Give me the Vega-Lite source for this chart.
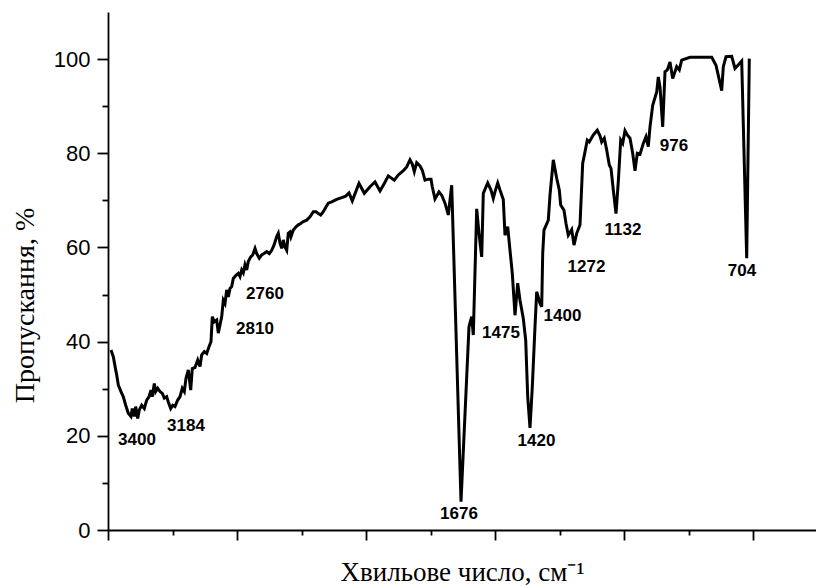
{
  "$schema": "https://vega.github.io/schema/vega-lite/v6.json",
  "width": 708,
  "height": 518,
  "autosize": {"type": "none"},
  "padding": {"left": 108, "top": 12, "right": 0, "bottom": 56},
  "background": "white",
  "config": {"view": {"stroke": null}},
  "datasets": {
    "spectrum": [
      {"pos": 3, "T": 38.2}, {"pos": 5.3, "T": 36.8}, {"pos": 7.7, "T": 34.0}, {"pos": 8.7, "T": 32.9},
      {"pos": 10.3, "T": 30.8}, {"pos": 13, "T": 29.4}, {"pos": 15.3, "T": 28.3}, {"pos": 17.7, "T": 26.5},
      {"pos": 20.3, "T": 24.8}, {"pos": 23, "T": 24.1}, {"pos": 24.3, "T": 25.8}, {"pos": 26.3, "T": 24.1},
      {"pos": 27.7, "T": 26.2}, {"pos": 29.7, "T": 23.7}, {"pos": 31.3, "T": 25.5}, {"pos": 33.7, "T": 26.5},
      {"pos": 36.3, "T": 25.8}, {"pos": 38.7, "T": 27.6}, {"pos": 41, "T": 28.3}, {"pos": 43, "T": 29.7},
      {"pos": 44.3, "T": 28.3}, {"pos": 46.3, "T": 31.1}, {"pos": 47.7, "T": 29.4}, {"pos": 49.7, "T": 30.1},
      {"pos": 52, "T": 29.4}, {"pos": 54.3, "T": 29.0}, {"pos": 56.3, "T": 28.0}, {"pos": 58.7, "T": 28.3},
      {"pos": 60.3, "T": 27.2}, {"pos": 62.7, "T": 25.8}, {"pos": 64.7, "T": 26.5}, {"pos": 67, "T": 26.2},
      {"pos": 69.7, "T": 27.6}, {"pos": 72, "T": 28.3}, {"pos": 74.3, "T": 30.1}, {"pos": 76.3, "T": 29.4},
      {"pos": 78, "T": 32.2}, {"pos": 80.3, "T": 34.0}, {"pos": 82.7, "T": 29.7}, {"pos": 84.3, "T": 34.3},
      {"pos": 87, "T": 34.5}, {"pos": 89.7, "T": 36.1}, {"pos": 92, "T": 34.7}, {"pos": 93.7, "T": 37.2},
      {"pos": 96.3, "T": 37.9}, {"pos": 98.7, "T": 37.5}, {"pos": 101, "T": 38.9}, {"pos": 103, "T": 40.0},
      {"pos": 104.3, "T": 45.3}, {"pos": 106.3, "T": 44.2}, {"pos": 108.7, "T": 44.6}, {"pos": 110.3, "T": 41.8},
      {"pos": 113.7, "T": 45.3}, {"pos": 115.3, "T": 48.8}, {"pos": 117, "T": 48.1}, {"pos": 118.7, "T": 51.0},
      {"pos": 120.3, "T": 49.5}, {"pos": 122, "T": 51.3}, {"pos": 123.7, "T": 51.7}, {"pos": 125.3, "T": 53.4},
      {"pos": 128, "T": 54.1}, {"pos": 130.3, "T": 54.5}, {"pos": 132, "T": 53.8}, {"pos": 133.7, "T": 55.2},
      {"pos": 135.3, "T": 54.6}, {"pos": 137, "T": 56.3}, {"pos": 138.7, "T": 55.2}, {"pos": 140.3, "T": 57.0},
      {"pos": 142.7, "T": 58.0}, {"pos": 144.7, "T": 58.4}, {"pos": 147, "T": 59.8}, {"pos": 148.7, "T": 58.7},
      {"pos": 151.3, "T": 57.7}, {"pos": 153.7, "T": 58.4}, {"pos": 156, "T": 58.7}, {"pos": 158.7, "T": 59.1},
      {"pos": 161.3, "T": 58.7}, {"pos": 163.7, "T": 59.4}, {"pos": 166, "T": 60.5}, {"pos": 168.7, "T": 62.3},
      {"pos": 170.3, "T": 63.0}, {"pos": 172, "T": 60.9}, {"pos": 173.7, "T": 59.8}, {"pos": 175.3, "T": 61.6},
      {"pos": 177, "T": 60.1}, {"pos": 178.7, "T": 59.4}, {"pos": 180.3, "T": 63.0}, {"pos": 182, "T": 63.3},
      {"pos": 183, "T": 62.3}, {"pos": 185.3, "T": 63.7}, {"pos": 188, "T": 64.4}, {"pos": 190.3, "T": 64.8},
      {"pos": 192.7, "T": 65.1}, {"pos": 195.3, "T": 65.5}, {"pos": 198.7, "T": 65.8}, {"pos": 202, "T": 66.5},
      {"pos": 205.3, "T": 67.6}, {"pos": 208, "T": 67.6}, {"pos": 210.3, "T": 67.2}, {"pos": 212.7, "T": 66.9},
      {"pos": 215.3, "T": 67.6}, {"pos": 218, "T": 68.6}, {"pos": 220.3, "T": 69.4}, {"pos": 223.7, "T": 69.7},
      {"pos": 228.7, "T": 70.2}, {"pos": 233.7, "T": 70.6}, {"pos": 237.7, "T": 70.9}, {"pos": 241, "T": 71.6},
      {"pos": 244.3, "T": 69.9}, {"pos": 247.7, "T": 71.8}, {"pos": 251, "T": 73.6}, {"pos": 256.3, "T": 71.5},
      {"pos": 262, "T": 72.9}, {"pos": 267, "T": 73.9}, {"pos": 272, "T": 72.0}, {"pos": 276.3, "T": 73.6},
      {"pos": 280.3, "T": 75.2}, {"pos": 286.3, "T": 74.3}, {"pos": 290.3, "T": 75.4}, {"pos": 295.3, "T": 76.3},
      {"pos": 298.7, "T": 77.1}, {"pos": 302, "T": 78.6}, {"pos": 304.3, "T": 77.7}, {"pos": 306.3, "T": 76.1},
      {"pos": 308.7, "T": 78.0}, {"pos": 312, "T": 77.3}, {"pos": 314.3, "T": 76.4}, {"pos": 317, "T": 74.3},
      {"pos": 320.3, "T": 74.5}, {"pos": 323, "T": 74.5}, {"pos": 324.3, "T": 72.9}, {"pos": 327, "T": 70.3},
      {"pos": 331, "T": 71.8}, {"pos": 333.7, "T": 71.1}, {"pos": 337, "T": 69.4}, {"pos": 340.3, "T": 66.9},
      {"pos": 343.7, "T": 73.2}, {"pos": 353, "T": 6.0}, {"pos": 361, "T": 43.2}, {"pos": 363.7, "T": 45.3},
      {"pos": 365.3, "T": 41.4}, {"pos": 368.7, "T": 68.2}, {"pos": 371, "T": 63.0}, {"pos": 373.7, "T": 58.0},
      {"pos": 375.3, "T": 71.5}, {"pos": 379.7, "T": 73.7}, {"pos": 383, "T": 72.2}, {"pos": 385.3, "T": 70.4},
      {"pos": 387, "T": 71.8}, {"pos": 389.7, "T": 73.7}, {"pos": 392, "T": 72.2}, {"pos": 395.3, "T": 70.2},
      {"pos": 397, "T": 62.6}, {"pos": 399.7, "T": 64.4}, {"pos": 402, "T": 59.4}, {"pos": 404.3, "T": 54.5},
      {"pos": 407, "T": 45.6}, {"pos": 409.7, "T": 52.4}, {"pos": 412, "T": 48.8}, {"pos": 415.3, "T": 44.9},
      {"pos": 417.7, "T": 40.3}, {"pos": 419.7, "T": 28.3}, {"pos": 422, "T": 21.7}, {"pos": 424.3, "T": 30.4},
      {"pos": 427, "T": 43.2}, {"pos": 428.7, "T": 50.6}, {"pos": 432, "T": 48.1}, {"pos": 433.7, "T": 47.4},
      {"pos": 434.7, "T": 58.7}, {"pos": 436, "T": 63.7}, {"pos": 440.3, "T": 65.8}, {"pos": 442, "T": 71.1},
      {"pos": 445.3, "T": 78.6}, {"pos": 448.7, "T": 74.7}, {"pos": 451.3, "T": 72.2}, {"pos": 452.7, "T": 69.0},
      {"pos": 456, "T": 67.9}, {"pos": 458, "T": 65.1}, {"pos": 460.3, "T": 62.6}, {"pos": 463.7, "T": 63.8},
      {"pos": 466, "T": 60.5}, {"pos": 468.7, "T": 63.0}, {"pos": 472, "T": 64.8}, {"pos": 474.7, "T": 77.9},
      {"pos": 477, "T": 80.3}, {"pos": 479.3, "T": 82.8}, {"pos": 481.3, "T": 82.4}, {"pos": 485.3, "T": 83.9},
      {"pos": 489.3, "T": 84.9}, {"pos": 492, "T": 83.7}, {"pos": 493.7, "T": 82.4}, {"pos": 496.3, "T": 83.2},
      {"pos": 498.7, "T": 80.7}, {"pos": 501.3, "T": 77.5}, {"pos": 503, "T": 76.8}, {"pos": 505.3, "T": 72.2},
      {"pos": 508, "T": 67.2}, {"pos": 510.3, "T": 74.0}, {"pos": 512.7, "T": 82.8}, {"pos": 514.7, "T": 82.1},
      {"pos": 517, "T": 84.8}, {"pos": 519.3, "T": 83.9}, {"pos": 522, "T": 83.2}, {"pos": 524.7, "T": 80.0},
      {"pos": 527, "T": 76.3}, {"pos": 529.3, "T": 80.0}, {"pos": 532, "T": 79.8}, {"pos": 535.3, "T": 82.1},
      {"pos": 538, "T": 83.5}, {"pos": 540.3, "T": 81.4}, {"pos": 542, "T": 85.6}, {"pos": 544.7, "T": 90.2},
      {"pos": 548.7, "T": 93.0}, {"pos": 550.3, "T": 96.2}, {"pos": 552, "T": 94.1}, {"pos": 554.7, "T": 85.6},
      {"pos": 557, "T": 97.3}, {"pos": 559.3, "T": 97.7}, {"pos": 562, "T": 99.4}, {"pos": 564.7, "T": 95.9},
      {"pos": 568.7, "T": 98.4}, {"pos": 571.3, "T": 97.7}, {"pos": 573.7, "T": 99.8}, {"pos": 582, "T": 100.4},
      {"pos": 603.7, "T": 100.4}, {"pos": 608, "T": 98.7}, {"pos": 613.7, "T": 93.3}, {"pos": 615.3, "T": 98.4},
      {"pos": 618, "T": 100.5}, {"pos": 623.7, "T": 100.6}, {"pos": 627, "T": 98.0}, {"pos": 633.7, "T": 99.6},
      {"pos": 638.7, "T": 57.7}, {"pos": 641.3, "T": 100.1}
    ],
    "peaks": [
      {"pos": 29, "T": 19.1, "label": "3400"},
      {"pos": 78, "T": 22.1, "label": "3184"},
      {"pos": 147, "T": 42.7, "label": "2810"},
      {"pos": 157, "T": 50.1, "label": "2760"},
      {"pos": 393, "T": 41.8, "label": "1475"},
      {"pos": 454.5, "T": 45.5, "label": "1400"},
      {"pos": 428.5, "T": 18.9, "label": "1420"},
      {"pos": 351, "T": 3.4, "label": "1676"},
      {"pos": 478.5, "T": 55.8, "label": "1272"},
      {"pos": 515, "T": 63.7, "label": "1132"},
      {"pos": 566, "T": 81.6, "label": "976"},
      {"pos": 634, "T": 55.1, "label": "704"}
    ]
  },
  "layer": [
    {
      "data": {"name": "spectrum"},
      "mark": {"type": "line", "color": "black", "strokeWidth": 3},
      "encoding": {
        "x": {
          "field": "pos", "type": "quantitative",
          "scale": {"domain": [0, 708], "nice": false, "zero": false},
          "axis": {
            "values": [0, 64.5, 129, 193.5, 258, 322.5, 387, 451.5, 516, 580.5, 645],
            "labels": false, "grid": false,
            "tickSize": {"condition": {"test": "datum.value % 129 === 0", "value": 10}, "value": 5},
            "tickWidth": 1.8, "tickColor": "black",
            "domainColor": "black", "domainWidth": 1.8,
            "title": "Хвильове число, см⁻¹",
            "titleFont": "Liberation Serif", "titleFontSize": 27, "titleFontWeight": "normal", "titleColor": "black",
            "titleX": 354, "titleY": 50, "titleBaseline": "alphabetic", "titleAlign": "center"
          }
        },
        "y": {
          "field": "T", "type": "quantitative",
          "scale": {"domain": [0, 110], "nice": false},
          "axis": {
            "values": [0, 10, 20, 30, 40, 50, 60, 70, 80, 90, 100],
            "labelExpr": "datum.value % 20 === 0 ? datum.label : ''",
            "grid": false,
            "tickSize": {"condition": {"test": "datum.value % 20 === 0", "value": 11}, "value": 6},
            "tickWidth": 1.8, "tickColor": "black",
            "domainColor": "black", "domainWidth": 1.8,
            "labelFont": "Liberation Sans", "labelFontSize": 22, "labelColor": "black", "labelPadding": 7,
            "title": "Пропускання, %",
            "titleFont": "Liberation Serif", "titleFontSize": 28, "titleFontWeight": "normal", "titleColor": "black",
            "titleX": -75, "titleY": 293, "titleBaseline": "alphabetic", "titleAlign": "center", "titleAngle": -90
          }
        }
      }
    },
    {
      "data": {"name": "peaks"},
      "mark": {"type": "text", "font": "Liberation Sans", "fontWeight": "bold", "fontSize": 17, "align": "center", "baseline": "middle", "color": "black"},
      "encoding": {
        "x": {"field": "pos", "type": "quantitative"},
        "y": {"field": "T", "type": "quantitative"},
        "text": {"field": "label"}
      }
    }
  ]
}
